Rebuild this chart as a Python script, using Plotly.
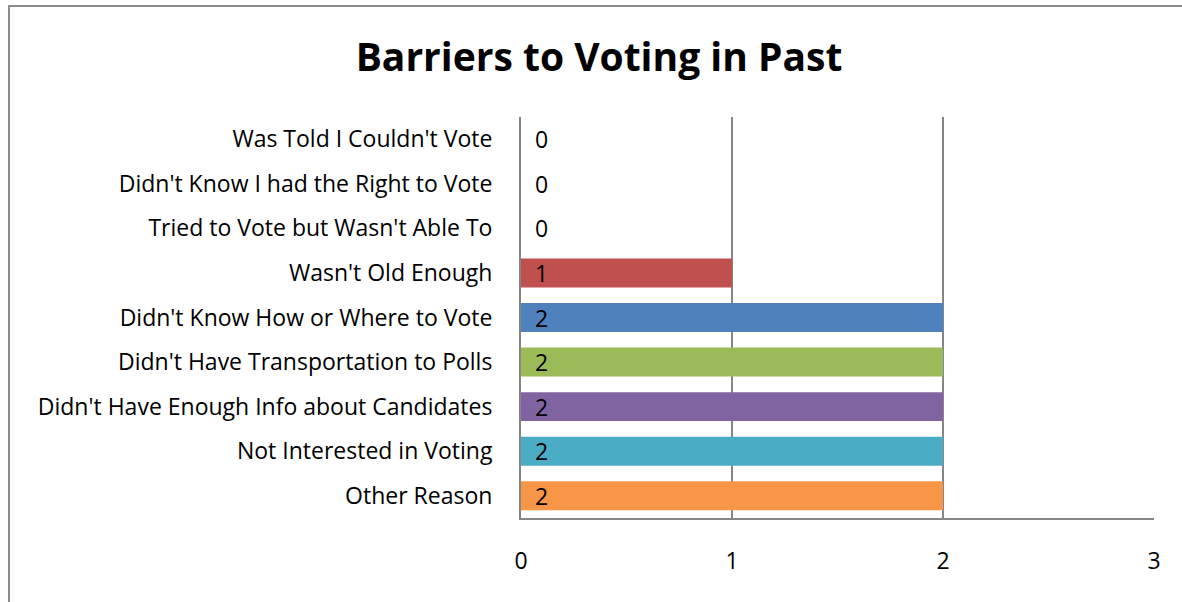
import plotly.graph_objects as go

categories = [
    "Was Told I Couldn't Vote",
    "Didn't Know I had the Right to Vote",
    "Tried to Vote but Wasn't Able To",
    "Wasn't Old Enough",
    "Didn't Know How or Where to Vote",
    "Didn't Have Transportation to Polls",
    "Didn't Have Enough Info about Candidates",
    "Not Interested in Voting",
    "Other Reason",
]
values = [0, 0, 0, 1, 2, 2, 2, 2, 2]
colors = ["#4F81BD", "#4F81BD", "#4F81BD", "#C0504D", "#4F81BD",
          "#9BBB59", "#8064A2", "#4BACC6", "#F79646"]
x_ticks = [0, 1, 2, 3]
title = "Barriers to Voting in Past"

FONT = "Open Sans"
FS = 23

fig = go.Figure()
fig.add_trace(go.Bar(
    x=values, y=categories, orientation="h",
    marker=dict(color=colors, line=dict(width=0)),
    showlegend=False, hoverinfo="skip",
))

for c, v in zip(categories, values):
    fig.add_annotation(x=0, y=c, text=str(v), xanchor="left", xshift=12,
                       showarrow=False, font=dict(family=FONT, size=FS, color="black"))

W, H = 1182, 602
L, R, T, B = 521, 1154, 117, 518
pw, ph = R - L, B - T

# outer chart border
fig.add_shape(type="rect", xref="paper", yref="paper",
              x0=(9 - L) / pw, x1=(1200 - L) / pw,
              y0=-(620 - B) / ph, y1=1 + (T - 6) / ph,
              line=dict(color="#8c8c8c", width=2), layer="below")

fig.update_layout(
    width=W, height=H,
    margin=dict(l=L, r=W - R, t=T, b=H - B, pad=0),
    paper_bgcolor="white", plot_bgcolor="white",
    bargap=0.35,
    font=dict(family=FONT, size=FS, color="black"),
    title=dict(text=f"<b>{title}</b>", x=599 / W, xanchor="center",
               y=1 - 57 / H, yanchor="middle", xref="container", yref="container",
               font=dict(family=FONT, size=39, color="black")),
    xaxis=dict(range=[0, 3], tickvals=x_ticks, showgrid=True, gridcolor="#868686",
               gridwidth=1.5, showline=True, linecolor="#868686", linewidth=2,
               zeroline=False, ticks="", ticklabelstandoff=21,
               tickfont=dict(family=FONT, size=FS), fixedrange=True),
    yaxis=dict(categoryorder="array", categoryarray=categories, autorange="reversed",
               showline=True, linecolor="#868686", linewidth=2, ticks="",
               ticklabelstandoff=22, showgrid=False,
               tickfont=dict(family=FONT, size=FS), fixedrange=True),
)

fig.write_html(
    "out.html",
    config={"displayModeBar": False},
    post_script="document.body.style.margin='0';document.body.style.overflow='hidden';",
)
